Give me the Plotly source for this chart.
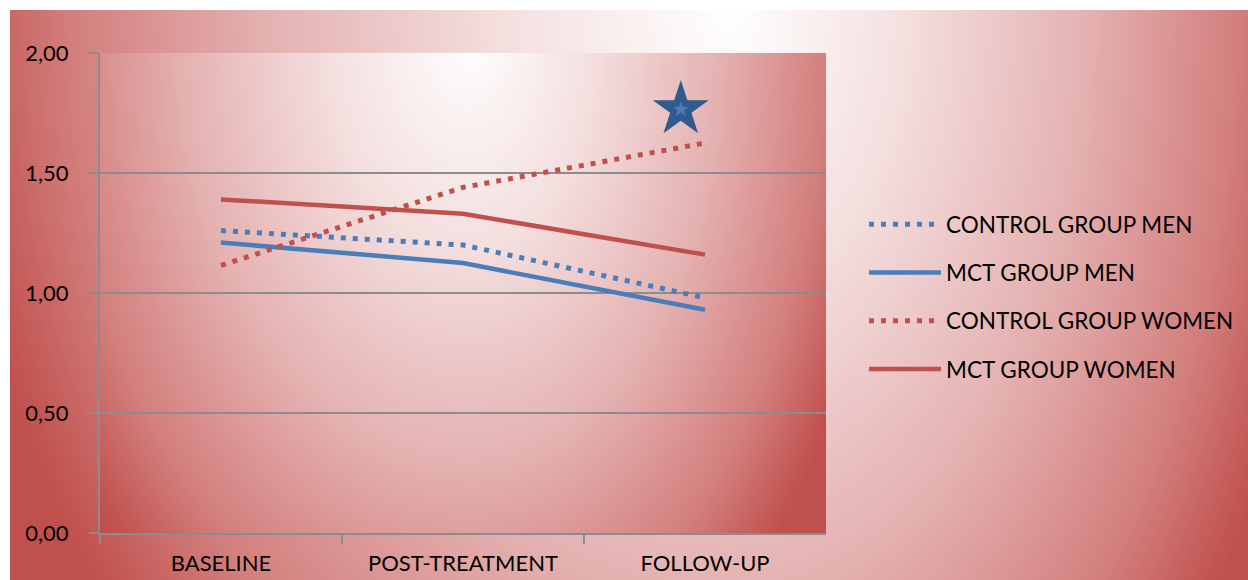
import numpy as np
import plotly.graph_objects as go

# ---- data ----
categories = ["BASELINE", "POST-TREATMENT", "FOLLOW-UP"]
control_men = [1.26, 1.20, 0.98]
mct_men = [1.21, 1.125, 0.93]
control_women = [1.115, 1.44, 1.625]
mct_women = [1.39, 1.33, 1.16]
series_names = ["CONTROL GROUP MEN", "MCT GROUP MEN", "CONTROL GROUP WOMEN", "MCT GROUP WOMEN"]
star_x = [1.9]
star_y = [1.765]
y_ticks = [0, 0.5, 1.0, 1.5, 2.0]

W, H = 1248, 580
BLUE = "#4a7ebb"
RED = "#c0504d"
GRID = "#8c8c8c"
FONT = "Lato, 'Liberation Sans', Arial, sans-serif"

# plot area in pixels
PL, PR, PT, PB = 100, 826, 53, 533

colorscale = [[0, "rgb(255,255,255)"], [0.3, "rgb(244,222,222)"], [0.6, "rgb(228,176,176)"],
              [0.85, "rgb(210,126,124)"], [1, "rgb(192,80,77)"]]


def grad(x0, x1, y0, y1, cx, cy, rxl, rxr, ry, soft=1.0, nx=70, ny=36):
    xs = np.linspace(x0, x1, nx)
    ys = np.linspace(y0, y1, ny)
    X, Y = np.meshgrid(xs, ys)
    rx = np.where(X < cx, rxl, rxr)
    d = np.sqrt(((X - cx) / rx) ** 2 + ((Y - cy) / ry) ** 2) / soft
    return xs, ys, np.clip(d, 0, 1)


fig = go.Figure()

# outer background gradient
bx, by, bz = grad(10, W, 10, H, 730, 0, 780, 600, 1000)
fig.add_trace(go.Heatmap(x=bx, y=by, z=bz, colorscale=colorscale, zmin=0, zmax=1, zsmooth="best",
                         showscale=False, hoverinfo="skip", xaxis="x", yaxis="y"))
# plot area gradient
px_, py_, pz = grad(PL, PR, PT, PB, 470, 30, 450, 390, 680, soft=1.08)
fig.add_trace(go.Heatmap(x=px_, y=py_, z=pz, colorscale=colorscale, zmin=0, zmax=1, zsmooth="best",
                         showscale=False, hoverinfo="skip", xaxis="x2", yaxis="y2"))

styles = [
    (control_men, BLUE, "5px,7px"),
    (mct_men, BLUE, "solid"),
    (control_women, RED, "5px,7px"),
    (mct_women, RED, "solid"),
]
for i, (vals, col, dash) in enumerate(styles):
    fig.add_trace(go.Scatter(x=categories, y=vals, mode="lines", name=series_names[i],
                             legendgroup=str(i),
                             line=dict(color=col, width=5 if dash != "solid" else 4.5, dash=dash),
                             xaxis="x3", yaxis="y3", hoverinfo="skip"))

# significance star
fig.add_trace(go.Scatter(x=star_x, y=star_y, mode="markers", showlegend=False, hoverinfo="skip",
                         marker=dict(symbol="star", size=42, color="#2f5b8e",
                                     line=dict(width=0)),
                         xaxis="x4", yaxis="y3"))
fig.add_trace(go.Scatter(x=star_x, y=star_y, mode="markers", showlegend=False, hoverinfo="skip",
                         marker=dict(symbol="star", size=12, color=BLUE, line=dict(width=0)),
                         xaxis="x4", yaxis="y3"))

dx = [PL / W, PR / W]
dy = [(H - PB) / H, (H - PT) / H]
hidden = dict(visible=False, showgrid=False, zeroline=False, fixedrange=True, automargin=False)

fig.update_layout(
    width=W, height=H,
    margin=dict(l=0, r=0, t=0, b=0, pad=0, autoexpand=False),
    paper_bgcolor="white",
    plot_bgcolor="rgba(0,0,0,0)",
    separators=", ",
    font=dict(family=FONT, size=22, color="black"),
    xaxis=dict(domain=[10 / W, 1], range=[10, W], **hidden),
    yaxis=dict(domain=[0, (H - 10) / H], range=[H, 10], **hidden),
    xaxis2=dict(domain=dx, range=[PL, PR], anchor="y2", **hidden),
    yaxis2=dict(domain=dy, range=[PB, PT], anchor="x2", **hidden),
    xaxis3=dict(domain=dx, anchor="y3", type="category", range=[-0.5, 2.5], tickson="boundaries",
                showline=True, linecolor=GRID, linewidth=2, ticks="outside", ticklen=9,
                tickcolor=GRID, tickwidth=2, showgrid=False, zeroline=False, automargin=False,
                ticklabelstandoff=10, tickfont=dict(size=22)),
    xaxis4=dict(overlaying="x3", range=[-0.5, 2.5], **hidden),
    yaxis3=dict(domain=dy, anchor="x3", range=[0, 2], tickvals=y_ticks, tickformat=".2f",
                showline=True, linecolor=GRID, linewidth=2, ticks="outside", ticklen=9,
                tickcolor=GRID, tickwidth=2, showgrid=True, gridcolor=GRID, gridwidth=2,
                zeroline=False, automargin=False, ticklabelstandoff=16, tickfont=dict(size=22)),
    showlegend=True,
    legend=dict(x=864 / W, xanchor="left", y=(H - 203) / H, yanchor="top",
                bgcolor="rgba(0,0,0,0)", font=dict(size=22.5), tracegroupgap=16,
                itemwidth=72),
)

fig.write_html("out.html", config={"displayModeBar": False, "staticPlot": True},
               post_script="document.body.style.margin='0';document.body.style.padding='0';"
                           "document.body.style.overflow='hidden';")
